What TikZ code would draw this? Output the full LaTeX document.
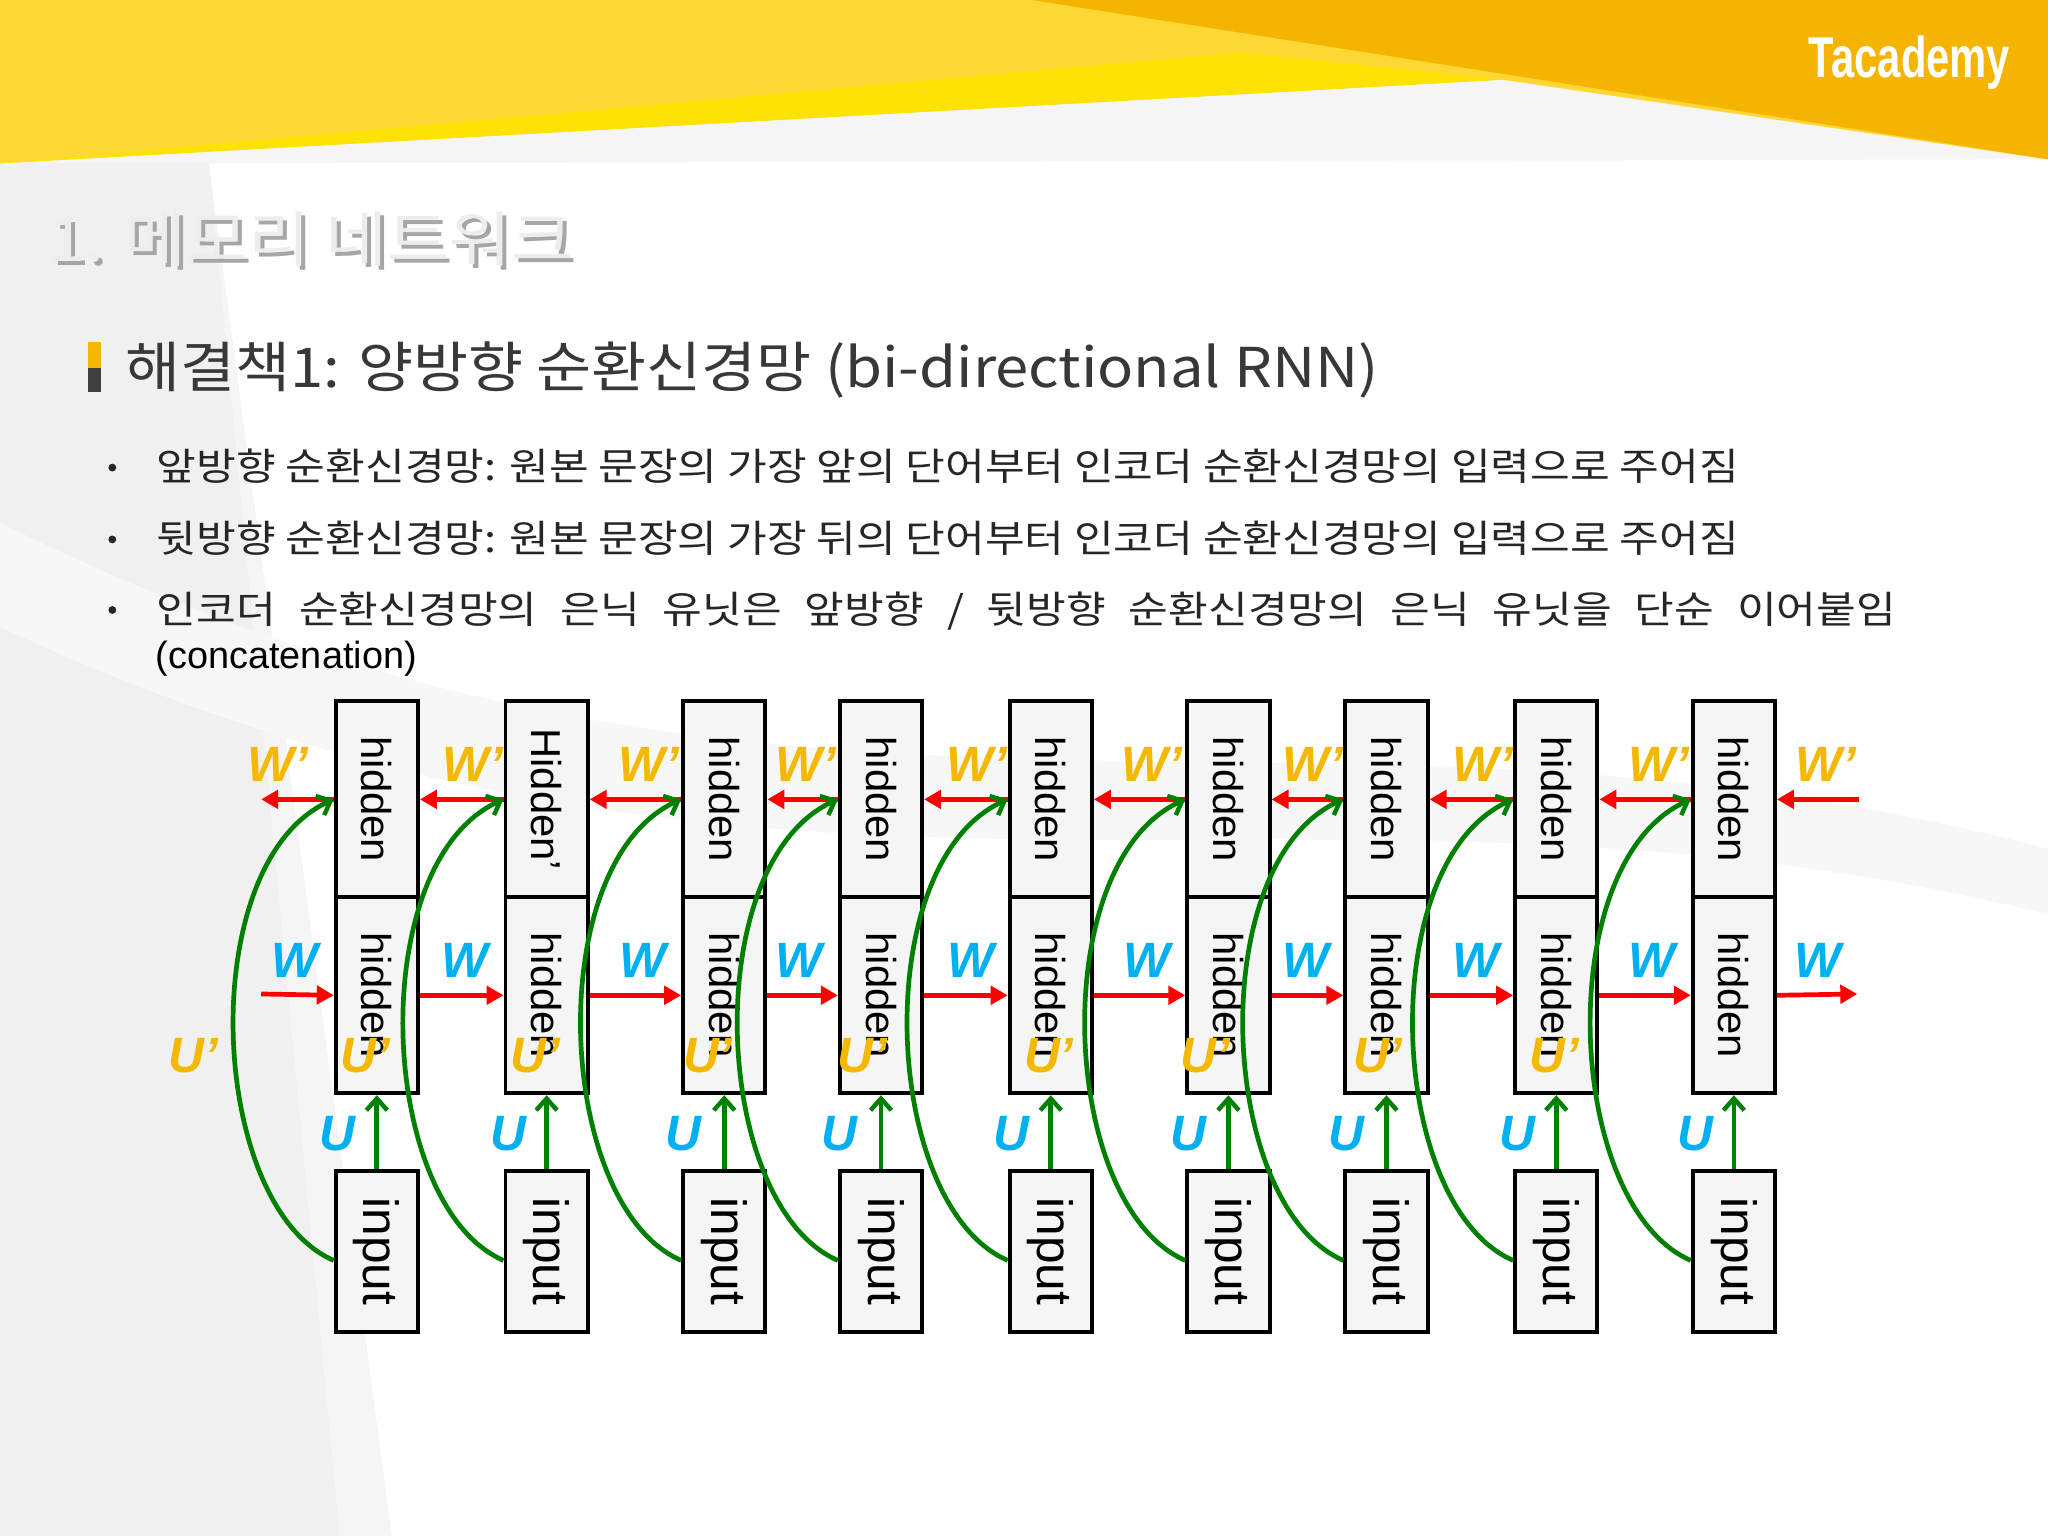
\documentclass[tikz,border=0pt]{standalone}
\usepackage{fontspec}
\setmainfont{Liberation Sans}
\newfontfamily\kr{Noto Sans CJK KR}
\newfontfamily\krl{Noto Sans CJK KR Light}
\usetikzlibrary{arrows.meta,calc}
\definecolor{gold}{HTML}{F5B800}
\definecolor{sky}{HTML}{00B0F0}
\definecolor{grn}{HTML}{008000}
\definecolor{ylw}{HTML}{FDD835}
\definecolor{org}{HTML}{F5B400}
\begin{document}
\begin{tikzpicture}[x=1pt,y=-1pt,
  cell/.style={draw,line width=3pt,fill=white!96!black,minimum width=63pt,minimum height=150pt,inner sep=0pt},
  inbox/.style={draw,line width=3pt,fill=white!96!black,minimum width=63pt,minimum height=123pt,inner sep=0pt},
  ctext/.style={rotate=-90,font=\fontsize{32}{32}\selectfont},
  itext/.style={rotate=-90,font=\fontsize{38}{38}\selectfont},
  redarr/.style={draw=red,line width=3.6pt,-{Triangle[length=13pt,width=14pt]}},
  grnarr/.style={draw=grn,line width=3.6pt,-{Straight Barb[length=9pt,width=16pt,line width=3.4pt]}},
  lab/.style={font=\fontsize{38}{38}\selectfont\bfseries\itshape},
  bul/.style={anchor=base west,font=\kr\fontsize{29}{29}\selectfont,text=black!85}]
\useasboundingbox (0,0) rectangle (1568,1176);
% background
\fill[white!96!black] (0,0) rectangle (1568,1176);
\fill[white] (160,125) -- (1568,122) -- (1568,1176) -- (300,1176) -- cycle;
\fill[white!94!black] (0,125) -- (160,125) -- (260,1176) -- (0,1176) -- cycle;
\fill[white!97!black] (0,400) .. controls (600,700) and (1000,500) .. (1568,650) -- (1568,700) .. controls (1000,560) and (600,760) .. (0,480) -- cycle;
\fill[ylw] (0,0) -- (1568,0) -- (1568,122) -- (1150,61) -- (0,125) -- cycle;
\fill[yellow!85!orange] (0,125) -- (950,40) -- (1150,61) -- cycle;
\fill[org] (790,0) -- (1568,0) -- (1568,122) -- cycle;
\node[text=white,font=\fontsize{40}{40}\selectfont\bfseries] (logo) at (1462,48) {\scalebox{0.8}[1.1]{Tacademy}};
% title
\node[anchor=base west,text=black!35,font=\kr\fontsize{46}{46}\selectfont,inner sep=0] (tsh) at (40,203) {\scalebox{1.12}[1]{1. 메모리 네트워크}};
\node[anchor=base west,text=black!7,font=\kr\fontsize{46}{46}\selectfont,inner sep=0] (title) at (37,200) {\scalebox{1.12}[1]{1. 메모리 네트워크}};
\fill[gold] (67,262) rectangle (77,282);
\fill[black!75] (67,282) rectangle (77,300);
\node[anchor=base west,text=black!78,font=\kr\fontsize{42}{42}\selectfont,inner sep=0] (sub) at (96,297) {\scalebox{1.09}[1]{해결책1: 양방향 순환신경망 (bi-directional RNN)}};
% bullets
\foreach \yy in {358,413,467} \fill[black!85] (86,\yy) circle (3pt);
\node[bul,inner sep=0] (b1) at (120,368) {\scalebox{1.14}[1]{앞방향 순환신경망: 원본 문장의 가장 앞의 단어부터 인코더 순환신경망의 입력으로 주어짐}};
\node[bul,inner sep=0] (b2) at (120,423) {\scalebox{1.14}[1]{뒷방향 순환신경망: 원본 문장의 가장 뒤의 단어부터 인코더 순환신경망의 입력으로 주어짐}};
\node[bul,inner sep=0] (b3) at (120,477) {\scalebox{1.14}[1]{\makebox[1168pt][s]{인코더 순환신경망의 은닉 유닛은 앞방향 / 뒷방향 순환신경망의 은닉 유닛을 단순 이어붙임}}};
\node[anchor=base west,inner sep=0,font=\fontsize{29}{29}\selectfont] (b4) at (119,512) {(concatenation)};
% boxes
\foreach \i/\l in {1/257,2/387,3/523,4/643,5/773,6/909,7/1030,8/1160,9/1296}{
  \node[cell] (h\i) at (\l+31.5,612) {};
  \node[cell] (g\i) at (\l+31.5,762) {};
  \node[inbox] (in\i) at (\l+31.5,958) {};
}
\foreach \i in {1,3,4,5,6,7,8,9} \node[ctext] (th\i) at (h\i) {hidden};
\node[ctext] (th2) at (h2) {Hidden’};
\foreach \i in {1,...,9}{
  \node[ctext] (tg\i) at (g\i) {hidden};
  \node[itext] (ti\i) at (in\i) {input};
}
% red arrows
\coordinate (l0) at (200,612); \coordinate (r0) at (1423,612);
\coordinate (l1) at (200,761); \coordinate (r1) at (1422,761);
\draw[redarr] (h1.west) -- (l0);
\draw[redarr] (r0) -- (h9.east);
\draw[redarr] (l1) -- (g1.west);
\draw[redarr] (g9.east) -- (r1);
\foreach \i/\j in {1/2,2/3,3/4,4/5,5/6,6/7,7/8,8/9}{
  \draw[redarr] (h\j.west) -- (h\i.east);
  \draw[redarr] (g\i.east) -- (g\j.west);
}
% green arrows
\foreach \i in {1,...,9}{
  \draw[grnarr] (in\i.north) -- (g\i.south);
  \draw[grnarr] ($(in\i.west)+(0,7)$) .. controls +(-97,-42) and +(-107,48) .. (h\i.west);
}
% labels
\foreach \x [count=\k] in {213,362,497,617,748,882,1005,1135,1270,1398}
  \node[lab,text=gold] (wp\k) at (\x,585) {W’};
\foreach \x [count=\k] in {226,356,492,612,743,878,1000,1130,1265,1392}
  \node[lab,text=sky] (w\k) at (\x,735) {W};
\foreach \x [count=\k] in {258,389,523,643,774,910,1031,1162,1298}
  \node[lab,text=sky] (u\k) at (\x,868) {U};
\foreach \x [count=\k] in {148,280,410,542,660,803,923,1055,1190}
  \node[lab,text=gold] (up\k) at (\x,808) {U’};
\end{tikzpicture}
\end{document}
